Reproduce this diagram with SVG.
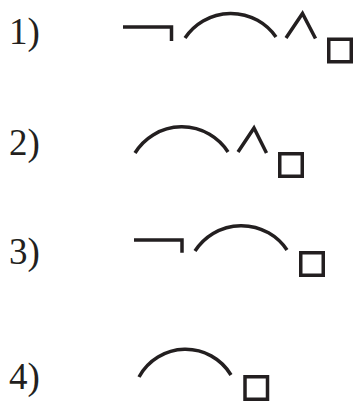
<svg xmlns="http://www.w3.org/2000/svg" width="356" height="403" viewBox="0 0 356 403">
<style>
.lbl{font-family:"Liberation Serif","Times New Roman",serif;font-size:37px;fill:#231f20}
.s{fill:none;stroke:#231f20;stroke-width:3.5;stroke-linecap:butt;stroke-linejoin:miter}
</style>
<rect width="356" height="403" fill="#ffffff"/>
<g id="item1">
<text class="lbl" x="9" y="44">1)</text>
<path class="s" d="M123,27 H171.5 V41"/>
<path class="s" d="M185,38 A55,55 0 0 1 276,37"/>
<path class="s" d="M286,38 L302.5,13.5 L315.5,38.5"/>
<rect class="s" x="328.75" y="39.25" width="22.5" height="22.5"/>
</g>
<g id="item2">
<text class="lbl" x="9" y="155">2)</text>
<path class="s" d="M135,153 A55,55 0 0 1 228,152"/>
<path class="s" d="M238,152 L254,128 L266.5,153"/>
<rect class="s" x="279.75" y="153.75" width="22.5" height="22.5"/>
</g>
<g id="item3">
<text class="lbl" x="9" y="264">3)</text>
<path class="s" d="M134,240 H182 V252.7"/>
<path class="s" d="M195,251 A55,55 0 0 1 287,250"/>
<rect class="s" x="300.75" y="252.75" width="22.5" height="22.5"/>
</g>
<g id="item4">
<text class="lbl" x="9" y="388.5">4)</text>
<path class="s" d="M139,377 A53,53 0 0 1 231,375"/>
<rect class="s" x="245" y="376.75" width="22.5" height="22.5"/>
</g>
</svg>
